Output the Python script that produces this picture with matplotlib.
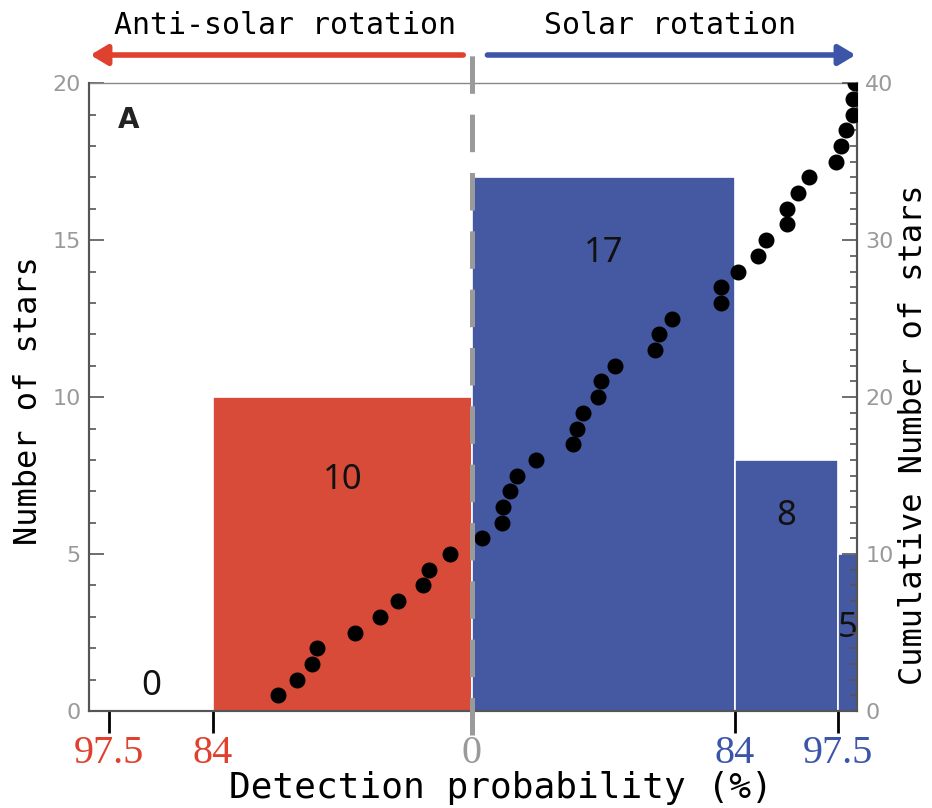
import numpy as np
import matplotlib.pyplot as plt
from matplotlib.ticker import MultipleLocator

plt.rcParams['lines.scale_dashes'] = False

RED = '#d94b39'
BLUE = '#4559a2'
GRAY = '#9a9a9a'
SPINE = '#555555'

# probability marks along the axis (anti-solar side negative)
tick_pos = [-3.63, -2.59, 0.0, 2.63, 3.66]
tick_labels = ['97.5', '84', '0', '84', '97.5']
tick_colors = ['#e0402e', '#e0402e', GRAY, '#3d55a8', '#3d55a8']

# histogram bins
bin_edges = [-3.83, -2.59, 0.0, 2.63, 3.66, 3.85]
bin_counts = [0, 10, 17, 8, 5]
bin_colors = ['white', RED, BLUE, BLUE, BLUE]

# individual stars, sorted, with cumulative count
star_x = [-1.94, -1.75, -1.60, -1.55, -1.17, -0.92, -0.74, -0.49, -0.43, -0.22,
          0.10, 0.30, 0.31, 0.38, 0.45, 0.64, 1.01, 1.05, 1.11, 1.26,
          1.29, 1.43, 1.83, 1.87, 2.00, 2.49, 2.49, 2.66, 2.86, 2.94,
          3.15, 3.15, 3.26, 3.37, 3.64, 3.69, 3.74, 3.81, 3.81, 3.83]
star_cum = [1, 2, 3, 4, 5, 6, 7, 8, 9, 10,
            11, 12, 13, 14, 15, 16, 17, 18, 19, 20,
            21, 22, 23, 24, 25, 26, 27, 28, 29, 30,
            31, 32, 33, 34, 35, 36, 37, 38, 39, 40]

fig = plt.figure(figsize=(9.32, 8.08), dpi=100)
ax = fig.add_axes([0.0955, 0.12, 0.824, 0.777])

widths = np.diff(bin_edges)
ax.bar(bin_edges[:-1], bin_counts, width=widths, align='edge',
       color=bin_colors, edgecolor='white', linewidth=1.2, zorder=1)

# count labels sit inside each bar, a bit below its top
label_y = [0.8, 7.35, 14.6, 6.2, 2.65]
for left, w, n, y in zip(bin_edges[:-1], widths, bin_counts, label_y):
    ax.text(left + w / 2, y, str(n), ha='center', va='center',
            fontsize=25, family='Noto Sans', color='#111111', clip_on=True, zorder=3)

ax.text(0.051, 0.941, 'A', transform=ax.transAxes, ha='center', va='center',
        fontsize=20, fontweight='bold', family='DejaVu Sans', color='#222222')

ax.set_xlim(bin_edges[0], bin_edges[-1])
ax.set_ylim(0, 20)
ax.yaxis.set_major_locator(MultipleLocator(5))
ax.yaxis.set_minor_locator(MultipleLocator(1))
ax.tick_params(axis='y', which='major', direction='in', length=11, width=1.2,
               color=SPINE, labelcolor=GRAY, labelsize=16, pad=6)
ax.tick_params(axis='y', which='minor', direction='in', length=5, width=1.2, color=SPINE)

ax.set_xticks(tick_pos)
ax.set_xticklabels(tick_labels)
ax.tick_params(axis='x', direction='out', length=16, width=2, labelsize=29, pad=1)
for t, c in zip(ax.xaxis.get_major_ticks(), tick_colors):
    t.tick1line.set_color(c)
    t.label1.set_color(c)
    t.label1.set_family('Liberation Serif')

for side in ('left', 'bottom', 'right'):
    ax.spines[side].set_color(SPINE)
    ax.spines[side].set_linewidth(1.5)
ax.spines['top'].set_color('#888888')
ax.spines['top'].set_linewidth(1.0)

ax.set_ylabel('Number of stars', family='DejaVu Sans Mono', fontsize=23)
ax.yaxis.set_label_coords(-0.058, 0.495)
ax.set_xlabel('Detection probability (%)', family='DejaVu Sans Mono', fontsize=26)
ax.xaxis.set_label_coords(0.536, -0.095)

# cumulative count on the right axis
ax2 = ax.twinx()
ax2.set_ylim(0, 40)
ax2.plot(star_x, star_cum, 'o', color='black', markersize=10.5, zorder=4)
ax2.yaxis.set_major_locator(MultipleLocator(10))
ax2.yaxis.set_minor_locator(MultipleLocator(1))
ax2.tick_params(axis='y', which='major', direction='in', length=11, width=1.2,
                color=SPINE, labelcolor=GRAY, labelsize=16, pad=6)
ax2.tick_params(axis='y', which='minor', direction='in', length=5, width=1.2, color=SPINE)
for side in ('left', 'bottom', 'right'):
    ax2.spines[side].set_color(SPINE)
    ax2.spines[side].set_linewidth(1.5)
ax2.spines['top'].set_visible(False)
ax2.set_ylabel('Cumulative Number of stars', family='DejaVu Sans Mono', fontsize=23)
ax2.yaxis.set_label_coords(1.054, 0.44)

# dashed divider at zero probability, running above and below the frame
ax2.plot([0, 0], [-0.038, 1.065], transform=ax2.get_xaxis_transform(),
         color=GRAY, lw=3.6, linestyle=(0, (27, 15)), clip_on=False, zorder=5)

# direction arrows and captions
arrow_y = 1 - 55 / 808
ax.annotate('', xy=(0.094, arrow_y), xytext=(0.500, arrow_y), xycoords='figure fraction',
            arrowprops=dict(arrowstyle='-|>,head_length=1.0,head_width=0.6',
                            color='#e0402e', lw=4))
ax.annotate('', xy=(0.921, arrow_y), xytext=(0.520, arrow_y), xycoords='figure fraction',
            arrowprops=dict(arrowstyle='-|>,head_length=1.0,head_width=0.6',
                            color='#3d55a8', lw=4))
fig.text(0.306, 1 - 25 / 808, 'Anti-solar rotation', ha='center', va='center',
         family='DejaVu Sans Mono', fontsize=21.5)
fig.text(0.719, 1 - 25 / 808, 'Solar rotation', ha='center', va='center',
         family='DejaVu Sans Mono', fontsize=21.5)

fig.savefig('out.png', dpi=100)
